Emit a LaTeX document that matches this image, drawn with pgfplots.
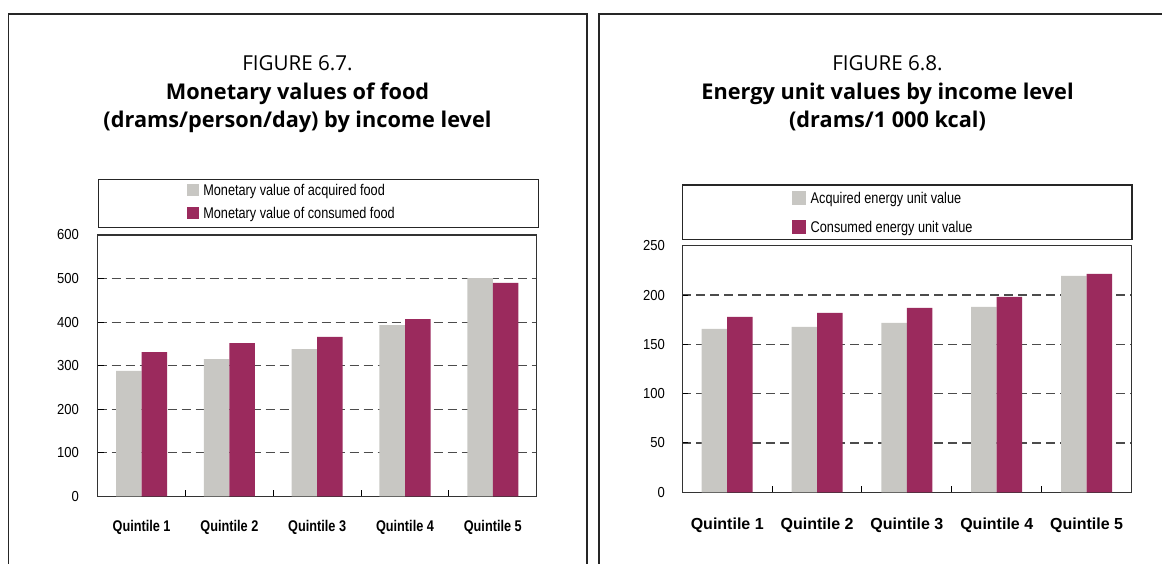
\documentclass[border=0pt]{standalone}
\usepackage{pgfplots}
\usepackage{pgfplotstable}
\pgfplotsset{compat=1.18}
\usepackage{fontspec}
\setmainfont{Liberation Sans}
\newfontfamily\titlefont{Open Sans}
\newfontfamily\narrowfont[FakeStretch=0.82]{Liberation Sans}
\newfontfamily\tickfont[FakeStretch=0.9]{Liberation Sans}
\definecolor{cgray}{RGB}{200,199,195}
\definecolor{cmag}{RGB}{155,42,93}

\pgfplotstableread{
x acq con
1 288 331
2 315 352
3 338 366
4 393 407
5 501 490
}\moneytable

\pgfplotstableread{
x acq con
1 165.6 177.8
2 167.6 181.8
3 171.7 186.9
4 187.9 198.1
5 219.4 221.4
}\energytable

\pgfplotsset{
  mybars/.style={
    scale only axis,
    ybar=0pt, bar width=25.5pt,
    xmin=0.5, xmax=5.5, ymin=0,
    xtick={1.5,2.5,3.5,4.5}, xticklabels={},
    xtick pos=bottom, ytick pos=left,
    tick align=inside, major tick length=6pt,
    tick style={black, line width=1pt},
    axis line style={black!80, line width=1.2pt},
    ymajorgrids,
    grid style={black!70, line width=1.1pt, dash pattern=on 9pt off 5pt},
    /pgf/number format/assume math mode=true,
    yticklabel style={anchor=east, inner sep=0pt, font=\fontsize{14.5}{16}\selectfont\tickfont},
    extra x ticks={1,2,3,4,5},
    extra x tick labels={Quintile 1,Quintile 2,Quintile 3,Quintile 4,Quintile 5},
    legend cell align=left,
  },
}

\begin{document}
\begin{tikzpicture}
\path[use as bounding box] (0pt,0pt) rectangle (1162pt,564pt);

% panel frames
\draw[black!85, line width=1.6pt] (8.3pt,-5pt) -- (8.3pt,550pt) -- (587pt,550pt) -- (587pt,-5pt);
\draw[black!85, line width=1.6pt] (599pt,-5pt) -- (599pt,550pt) -- (1170pt,550pt);

% titles
\node[anchor=base, inner sep=0pt, font=\fontsize{20.6}{24}\selectfont\titlefont] at (297.5pt,493.3pt) {FIGURE 6.7.};
\node[anchor=base, inner sep=0pt, font=\fontsize{21.7}{24}\selectfont\titlefont\bfseries] at (297.5pt,464.7pt) {Monetary values of food};
\node[anchor=base, inner sep=0pt, font=\fontsize{21.7}{24}\selectfont\titlefont\bfseries] at (297.5pt,436.5pt) {(drams/person/day) by income level};

\node[anchor=base, inner sep=0pt, font=\fontsize{20.6}{24}\selectfont\titlefont] at (887.5pt,493.3pt) {FIGURE 6.8.};
\node[anchor=base, inner sep=0pt, font=\fontsize{21.7}{24}\selectfont\titlefont\bfseries] at (887.5pt,464.7pt) {Energy unit values by income level};
\node[anchor=base, inner sep=0pt, font=\fontsize{21.7}{24}\selectfont\titlefont\bfseries] at (887.5pt,436.5pt) {(drams/1 000 kcal)};

% left chart
\begin{axis}[mybars,
  at={(97.7pt,67.5pt)}, anchor=south west,
  width=439pt, height=261.5pt,
  ymax=600, ytick={0,100,...,600},
  yticklabel style={xshift=-18.7pt},
  extra x tick style={major tick length=0pt, grid=none,
    tick label style={anchor=base, inner sep=0pt, yshift=-35pt,
      font=\fontsize{15.5}{18}\selectfont\narrowfont\bfseries}},
  legend style={at={(axis description cs:0.2034,1.195)}, anchor=north west,
    draw=none, fill=none, inner sep=0pt, outer sep=0pt, row sep=8.5pt,
    font=\fontsize{15.5}{18}\selectfont\narrowfont,
    nodes={inner xsep=4.6pt, inner ysep=0pt, text height=11pt, text depth=3pt, yshift=4pt}},
  legend image code/.code={\fill[#1] (0pt,-0.2pt) rectangle (11.7pt,11.5pt);},
]
\addplot[fill=cgray, draw=none] table[x=x, y=acq] {\moneytable};
\addlegendentry{Monetary value of acquired food}
\addplot[fill=cmag, draw=none] table[x=x, y=con] {\moneytable};
\addlegendentry{Monetary value of consumed food}
\end{axis}
\draw[black!85, line width=1.2pt] (98.3pt,384.7pt) rectangle (538.3pt,336.3pt);

% right chart
\begin{axis}[mybars,
  at={(682.3pt,71.7pt)}, anchor=south west,
  width=449.2pt, height=246.6pt,
  ymax=250, ytick={0,50,...,250},
  yticklabel style={xshift=-17.3pt},
  extra x tick style={major tick length=0pt, grid=none,
    tick label style={anchor=base, inner sep=0pt, yshift=-37.4pt,
      font=\fontsize{16}{18}\selectfont\bfseries}},
  legend style={at={(axis description cs:0.244,1.2206)}, anchor=north west,
    draw=none, fill=none, inner sep=0pt, outer sep=0pt, row sep=13pt,
    font=\fontsize{15.5}{18}\selectfont\narrowfont,
    nodes={inner xsep=4.8pt, inner ysep=0pt, text height=11pt, text depth=3pt, yshift=4pt}},
  legend image code/.code={\fill[#1] (0pt,-1.5pt) rectangle (14pt,12.5pt);},
]
\addplot[fill=cgray, draw=none] table[x=x, y=acq] {\energytable};
\addlegendentry{Acquired energy unit value}
\addplot[fill=cmag, draw=none] table[x=x, y=con] {\energytable};
\addlegendentry{Consumed energy unit value}
\end{axis}
\draw[black!85, line width=1.2pt] (682.3pt,379pt) rectangle (1132pt,324.7pt);
\end{tikzpicture}
\end{document}
